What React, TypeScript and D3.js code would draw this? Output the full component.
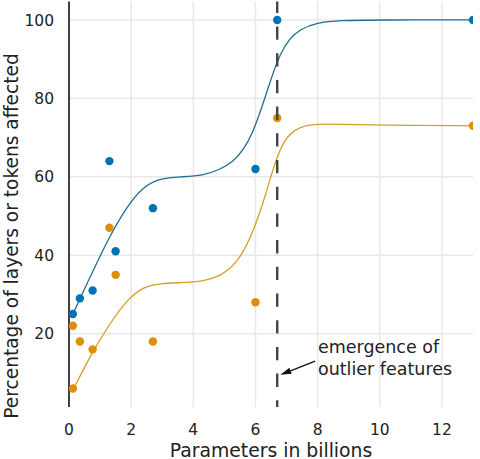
import React from 'react';
import * as d3 from 'd3';

// model sizes in billions of parameters
const sizes = [0.125, 0.35, 0.76, 1.3, 1.5, 2.7, 6, 6.7, 13];
const layersPct = [25, 29, 31, 64, 41, 52, 62, 100, 100];
const tokenSizes = [0.125, 0.125, 0.35, 0.76, 1.3, 1.5, 2.7, 6, 6.7, 13];
const tokensPct = [22, 6, 18, 16, 47, 35, 18, 28, 75, 73];

// fitted curves
const layersFitX = [0.125, 0.78, 1.32, 1.86, 2.39, 2.93, 3.6, 4.3, 4.86, 5.3, 5.61, 5.9, 6.2, 6.5, 6.8, 7.1, 7.43, 7.97, 8.7, 10, 13];
const layersFitY = [25, 36.2, 45, 52.4, 57.5, 59.6, 60, 60.3, 61.8, 64, 66.8, 71, 77.5, 85, 91.5, 95.3, 97.6, 99.3, 99.9, 100, 100];
const tokensFitX = [0.125, 0.78, 1.32, 1.86, 2.39, 2.93, 3.6, 4.3, 4.86, 5.4, 5.82, 6.25, 6.52, 6.8, 7.1, 7.43, 7.97, 8.7, 10, 13];
const tokensFitY = [5.6, 15.8, 22.6, 28.6, 32, 32.8, 33, 33.3, 34.6, 37.9, 43.9, 53.2, 60.9, 67.5, 71, 72.8, 73.5, 73.4, 73.2, 73];

const xTicks = [0, 2, 4, 6, 8, 10, 12];
const yTicks = [20, 40, 60, 80, 100];
const emergenceX = 6.7;
const noteLines = ['emergence of', 'outlier features'];

const W = 480;
const H = 459;
const font = '"DejaVu Sans", sans-serif';
const BLUE = '#0173b2';
const ORANGE = '#de8f05';

export default function App() {
  const x = d3.scaleLinear().domain([0, 13]).range([69, 473]);
  const y = d3.scaleLinear().domain([1.3, 104.7]).range([407, 1.5]);
  const [x0, x1] = x.range();
  const [yb, yt] = y.range();

  const line = d3.line<[number, number]>()
    .x(d => x(d[0]))
    .y(d => y(d[1]))
    .curve(d3.curveBasis);

  const layersFit = line(layersFitX.map((v, i) => [v, layersFitY[i]]));
  const tokensFit = line(tokensFitX.map((v, i) => [v, tokensFitY[i]]));

  // annotation arrow
  const tip: [number, number] = [x(6.8), y(9.5)];
  const tail: [number, number] = [x(7.92), y(13)];
  const ang = Math.atan2(tip[1] - tail[1], tip[0] - tail[0]);
  const hl = 11, hw = 3.2;
  const bx = tip[0] - hl * Math.cos(ang), by = tip[1] - hl * Math.sin(ang);
  const head = [
    tip,
    [bx + hw * Math.sin(ang), by - hw * Math.cos(ang)],
    [bx - hw * Math.sin(ang), by + hw * Math.cos(ang)],
  ].map(p => p.join(',')).join(' ');

  return (
    <svg width={W} height={H} style={{ position: 'absolute', left: 0, top: 0, background: '#fff' }}>
      <defs>
        <clipPath id="plot">
          <rect x={x0} y={yt} width={x1 - x0} height={yb - yt} />
        </clipPath>
      </defs>

      {/* grid */}
      {xTicks.filter(t => t > 0).map(t => (
        <line key={'gx' + t} x1={x(t)} x2={x(t)} y1={yt} y2={yb} stroke="#e8e8e8" strokeWidth={1.5} />
      ))}
      {yTicks.map(t => (
        <line key={'gy' + t} x1={x0} x2={x1} y1={y(t)} y2={y(t)} stroke="#e8e8e8" strokeWidth={1.5} />
      ))}

      {/* left spine */}
      <line x1={x0} x2={x0} y1={yt} y2={yb} stroke="#111" strokeWidth={1.6} />

      <g clipPath="url(#plot)">
        <path d={layersFit || ''} fill="none" stroke="#236c8e" strokeWidth={1.3} />
        <path d={tokensFit || ''} fill="none" stroke="#d59f22" strokeWidth={1.3} />
        {sizes.map((s, i) => (
          <circle key={'b' + i} cx={x(s)} cy={y(layersPct[i])} r={4.2} fill={BLUE} />
        ))}
        {tokenSizes.map((s, i) => (
          <circle key={'o' + i} cx={x(s)} cy={y(tokensPct[i])} r={4.2} fill={ORANGE} />
        ))}
      </g>

      {/* emergence marker */}
      <line x1={x(emergenceX)} x2={x(emergenceX)} y1={yt} y2={yb}
        stroke="#444" strokeWidth={2.4} strokeDasharray="13.3,13.4" strokeDashoffset={1.7} />

      {/* tick labels */}
      {yTicks.map(t => (
        <text key={'ty' + t} x={54} y={y(t)} dy="0.36em" textAnchor="end"
          fontFamily={font} fontSize={15.5} fill="#222">{t}</text>
      ))}
      {xTicks.map(t => (
        <text key={'tx' + t} x={x(t)} y={435} textAnchor="middle"
          fontFamily={font} fontSize={15.5} fill="#222">{t}</text>
      ))}

      {/* axis titles */}
      <text x={(x0 + x1) / 2} y={456.5} textAnchor="middle" fontFamily={font} fontSize={18.8} fill="#222">
        Parameters in billions
      </text>
      <text transform={`translate(17.8,236) rotate(-90)`} textAnchor="middle" fontFamily={font} fontSize={18.6} fill="#222">
        Percentage of layers or tokens affected
      </text>

      {/* annotation */}
      <line x1={tail[0]} y1={tail[1]} x2={bx} y2={by} stroke="#111" strokeWidth={1.3} />
      <polygon points={head} fill="#111" />
      {noteLines.map((l, i) => (
        <text key={l} x={x(8.01)} y={353 + i * 21.5} fontFamily={font} fontSize={17.5} fill="#222">{l}</text>
      ))}
    </svg>
  );
}
